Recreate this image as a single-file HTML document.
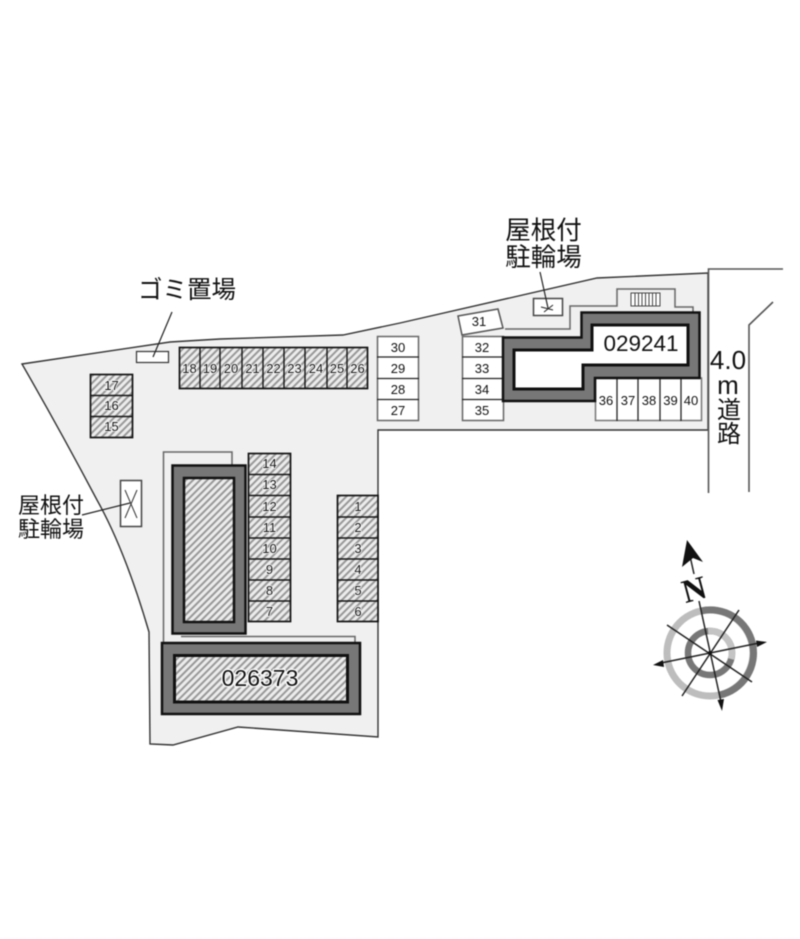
<!DOCTYPE html>
<html><head><meta charset="utf-8"><style>
html,body{margin:0;padding:0;background:#fff;width:800px;height:939px;overflow:hidden}
svg{display:block;filter:blur(.55px)}
.n{font:13px "Liberation Sans",sans-serif;fill:#111;text-anchor:middle}
.h{paint-order:stroke;stroke:#fff;stroke-width:1.5px;stroke-linejoin:round}
.j{font-family:"Liberation Sans","Noto Sans CJK JP",sans-serif;fill:#111;text-anchor:middle}
</style></head><body>
<svg width="800" height="939" viewBox="0 0 800 939" xmlns="http://www.w3.org/2000/svg">
<defs>
<pattern id="d" width="5" height="5" patternUnits="userSpaceOnUse" patternTransform="rotate(45)">
<rect width="5" height="5" fill="#ececec"/><rect width="2" height="5" fill="#999"/>
</pattern>
</defs>

<!-- site -->
<path d="M22,364 L170,342 L220,339 L343,335 L400,323 L597,278 L708,273 L708,430 L378,430 L378,737 L238,727 L173,745 L150,744 L149,632 Q125,550 97,500 Q60,430 22,364 Z" fill="#f0f0f0" stroke="#333" stroke-width="1.400"/>

<!-- road -->
<g fill="none" stroke="#555" stroke-width="1.600">
<path d="M708.500,493 V269 H783"/>
<path d="M749,492 V325 L773,302"/>
</g>

<!-- outlines behind buildings -->
<g fill="none" stroke="#666" stroke-width="1.500">
<path d="M505,329 H570 V306 H617 V289 H675 V307 H693 V312"/>
<path d="M163.500,642 V452 H232 V465"/>
<path d="M181,636.500 H355 V642"/>
</g>
<g fill="#fff" stroke="#444" stroke-width="1">
<rect x="631" y="293" width="29" height="13"/>
<path d="M635,293V306M638.500,293V306M642,293V306M645.500,293V306M649,293V306M652.500,293V306M656,293V306" fill="none"/>
</g>

<!-- top-right bike shed -->
<rect x="533.500" y="298.500" width="29" height="17" fill="#fff" stroke="#444" stroke-width="1.500"/>
<path d="M541,307 L553,310 M553,305 L544,312" stroke="#222" stroke-width="1" fill="none"/>
<path d="M540,272 L548,308" stroke="#222" stroke-width="1.200" fill="none"/>

<!-- garbage -->
<rect x="136.500" y="351.500" width="32" height="11" fill="#fff" stroke="#333" stroke-width="1.200"/>
<path d="M172,312 L153,357" stroke="#222" stroke-width="1.200"/>

<!-- left shed -->
<rect x="120.500" y="480.500" width="21" height="46" fill="#fff" stroke="#444" stroke-width="1.500"/>
<path d="M125,490 L137,518 M137,490 L125,518" stroke="#333" stroke-width="1"/>
<path d="M82,515 L130,503" stroke="#222" stroke-width="1.200"/>

<!-- hatched row 18-26 -->
<rect x="179.500" y="347.500" width="188" height="41" fill="url(#d)" stroke="#111" stroke-width="1.700"/>
<path d="M200,347V389M220,347V389M242,347V389M263,347V389M284,347V389M305,347V389M327,347V389M347,347V389" stroke="#111" stroke-width="1.400"/>
<g class="n h">
<text x="189.500" y="373">18</text><text x="210" y="373">19</text><text x="231" y="373">20</text><text x="252.500" y="373">21</text><text x="273.500" y="373">22</text><text x="294.500" y="373">23</text><text x="316" y="373">24</text><text x="337" y="373">25</text><text x="357.500" y="373">26</text>
</g>

<!-- 17-15 -->
<rect x="90.500" y="374.500" width="42" height="63" fill="url(#d)" stroke="#111" stroke-width="1.700"/>
<path d="M90,395.500H133M90,416.500H133" stroke="#111" stroke-width="1.400"/>
<g class="n h"><text x="111.500" y="390">17</text><text x="111.500" y="410">16</text><text x="111.500" y="431">15</text></g>

<!-- 14-7 -->
<rect x="248.500" y="453.500" width="42" height="168" fill="url(#d)" stroke="#111" stroke-width="1.700"/>
<path d="M248,474.500H291M248,495.500H291M248,517H291M248,538H291M248,559H291M248,580H291M248,601H291" stroke="#111" stroke-width="1.400"/>
<g class="n h"><text x="269.500" y="468">14</text><text x="269.500" y="489">13</text><text x="269.500" y="511">12</text><text x="269.500" y="532">11</text><text x="269.500" y="553">10</text><text x="269.500" y="574">9</text><text x="269.500" y="595">8</text><text x="269.500" y="616">7</text></g>

<!-- 1-6 -->
<rect x="337.500" y="495.500" width="40.500" height="126" fill="url(#d)" stroke="#111" stroke-width="1.700"/>
<path d="M337,517H378M337,538H378M337,559H378M337,580H378M337,601H378" stroke="#111" stroke-width="1.400"/>
<g class="n h"><text x="358" y="511">1</text><text x="358" y="532">2</text><text x="358" y="553">3</text><text x="358" y="574">4</text><text x="358" y="595">5</text><text x="358" y="616">6</text></g>

<!-- white spaces 27-30 -->
<rect x="377.500" y="336.500" width="41" height="84" fill="#fff" stroke="#666" stroke-width="1.500"/>
<path d="M377,357H419M377,378.500H419M377,399.500H419" stroke="#222" stroke-width="1.300"/>
<g class="n"><text x="398" y="352">30</text><text x="398" y="373">29</text><text x="398" y="394">28</text><text x="398" y="415">27</text></g>

<!-- white spaces 32-35 -->
<rect x="462.500" y="336.500" width="41" height="84" fill="#fff" stroke="#666" stroke-width="1.500"/>
<path d="M462,357H504M462,378.500H504M462,399.500H504" stroke="#222" stroke-width="1.300"/>
<g class="n"><text x="482" y="352">32</text><text x="482" y="373">33</text><text x="482" y="394">34</text><text x="482" y="415">35</text></g>
<path d="M458,316 L498,309 L503,328 L462,335 Z" fill="#fff" stroke="#555" stroke-width="1.500"/>
<text class="n" x="479" y="326">31</text>

<!-- 36-40 -->
<rect x="595.500" y="378" width="106" height="42.500" fill="#fff" stroke="#777" stroke-width="1.500"/>
<path d="M617,378V421M638,378V421M660,378V421M681,378V421" stroke="#222" stroke-width="1.300"/>
<g class="n"><text x="606" y="405">36</text><text x="628" y="405">37</text><text x="649" y="405">38</text><text x="670.500" y="405">39</text><text x="691" y="405">40</text></g>

<!-- building 029241 -->
<path d="M503,337.500 H581.500 V312.500 H699.500 V378 H595 V401 H503 Z" fill="#777" stroke="#111" stroke-width="2.500"/>
<path d="M514,350 H592 V325 H688 V365 H583 V389 H514 Z" fill="#fff" stroke="#111" stroke-width="3"/>
<text x="641" y="351" style="font:22.500px 'Liberation Sans',sans-serif;fill:#111;text-anchor:middle">029241</text>

<!-- left building -->
<rect x="172.500" y="465.500" width="73" height="168" fill="#777" stroke="#111" stroke-width="2.500"/>
<rect x="184" y="478" width="50" height="144" fill="url(#d)" stroke="#111" stroke-width="2.500"/>

<!-- bottom building -->
<rect x="162" y="643" width="198" height="71" fill="#777" stroke="#111" stroke-width="2.500"/>
<rect x="174.500" y="655.500" width="173" height="46.500" fill="url(#d)" stroke="#111" stroke-width="3"/>
<text class="h" x="260" y="686" style="font:23px 'Liberation Sans',sans-serif;fill:#111;text-anchor:middle;stroke-width:2.500px">026373</text>

<!-- Japanese labels -->
<g class="j" style="font-size:24.500px"><text x="187" y="298">ゴミ置場</text></g>
<g class="j" style="font-size:25.500px"><text x="543.500" y="239">屋根付</text><text x="543.500" y="266">駐輪場</text></g>
<g class="j" style="font-size:22px"><text x="51" y="513">屋根付</text><text x="51" y="537">駐輪場</text></g>
<text x="728" y="369" style="font:26px 'Liberation Sans',sans-serif;fill:#111;text-anchor:middle">4.0</text>
<text x="728" y="394" style="font:26px 'Liberation Sans',sans-serif;fill:#111;text-anchor:middle">m</text>
<g class="j" style="font-size:24px"><text x="729" y="418">道</text><text x="729" y="442">路</text></g>

<!-- compass -->
<g fill="none">
<circle cx="710" cy="653" r="43" stroke="#bdbdbd" stroke-width="7"/>
<path d="M701,611 A43,43 0 0 1 720,695" stroke="#777" stroke-width="7"/>
<circle cx="710" cy="653" r="22" stroke="#777" stroke-width="6.500"/>
<path d="M708,631 A22,22 0 0 1 731,659" stroke="#c4c4c4" stroke-width="6.500"/>
</g>
<g stroke="#222" stroke-width="1.500" fill="none">
<path d="M699,601 L721,702"/>
<path d="M661,663 L759,643"/>
<path d="M667,625 L752,682"/>
<path d="M739,610 L682,696"/>
<path d="M694,574 L690,556"/>
</g>
<path d="M722,711 L717.500,700 L724,699 Z" fill="#111"/>
<path d="M767,642 L757,647 L756,640.500 Z" fill="#111"/>
<path d="M653,665 L663,660 L664,667 Z" fill="#111"/>
<path d="M687,540 L703,562 L693,558 L682,567 Z" fill="#111"/>
<text transform="translate(697,600) rotate(-15)" style="font:bold 33px 'Liberation Serif',serif;fill:#111;text-anchor:middle">N</text>
<circle cx="710" cy="653" r="2" fill="#111"/>
</svg>
</body></html>
